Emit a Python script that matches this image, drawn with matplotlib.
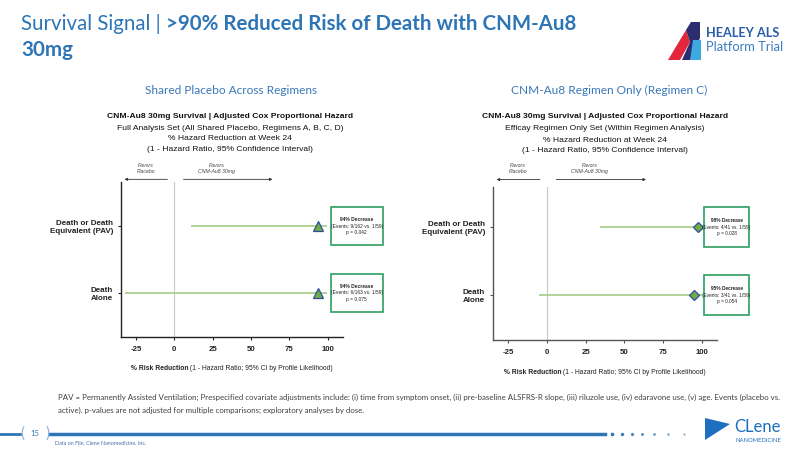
import matplotlib
matplotlib.use("Agg")
import matplotlib.pyplot as plt
from matplotlib.patches import Rectangle, Polygon
from matplotlib.lines import Line2D

W, H = 800, 450

# ---- data ----
rows = ["Death or Death\nEquivalent (PAV)", "Death\nAlone"]
row_pos = [1, 0]
xticks = [-25, 0, 25, 50, 75, 100]

# shared placebo across regimens (left panel)
left_est = [94, 93.5]
left_lo = [11, -32]
left_hi = [99.7, 99.7]
left_pct = ["94% Decrease", "94% Decrease"]
left_events = ["(Events: 9/162 vs. 1/59)", "(Events: 6/163 vs. 1/59)"]
left_p = ["p = 0.042", "p = 0.075"]

# regimen C only (right panel)
right_est = [97.5, 95.2]
right_lo = [34, -5]
right_hi = [99.9, 99.8]
right_pct = ["98% Decrease", "95% Decrease"]
right_events = ["(Events: 4/41 vs. 1/59)", "(Events: 3/41 vs. 1/59)"]
right_p = ["p = 0.028", "p = 0.054"]

left_head = ["CNM-Au8 30mg Survival | Adjusted Cox Proportional Hazard",
             "Full Analysis Set (All Shared Placebo, Regimens A, B, C, D)",
             "% Hazard Reduction at Week 24",
             "(1 - Hazard Ratio, 95% Confidence Interval)"]
right_head = ["CNM-Au8 30mg Survival | Adjusted Cox Proportional Hazard",
              "Efficay Regimen Only Set (Within Regimen Analysis)",
              "% Hazard Reduction at Week 24",
              "(1 - Hazard Ratio, 95% Confidence Interval)"]

BLUE = "#2e75b6"
GREEN_LINE = "#a9d18e"
GREEN_FILL = "#70ad47"
MARK_EDGE = "#2f4f9f"
BOX_EDGE = "#2e9e62"
ARIAL = "Liberation Sans"


def fx(x):
    return x / W


def fy(y):
    return 1 - y / H


fig = plt.figure(figsize=(8, 4.5), dpi=100)
fig.patch.set_facecolor("white")
renderer = fig.canvas.get_renderer()


def rich_text(x, y, parts, ha="left"):
    # parts drawn one after another on one line
    texts = []
    for s, kw in parts:
        t = fig.text(0, fy(y), s, va="center", ha="left", **kw)
        texts.append(t)
    widths = [t.get_window_extent(renderer).width for t in texts]
    total = sum(widths)
    start = x if ha == "left" else x - total / 2
    for t, w in zip(texts, widths):
        t.set_x(fx(start))
        start += w
    return texts


def forest(ax, est, lo, hi, marker, msize, pct, events, pvals, box_x, ylim, spine_c, bfs):
    ax.set_xlim(-35, 110)
    ax.set_ylim(*ylim)
    ax.axvline(0, color="#c8c8c8", lw=0.8, zorder=1)
    ax.hlines(row_pos, lo, hi, color=GREEN_LINE, lw=1.3, zorder=2)
    ax.plot(est, row_pos, ls="none", marker=marker, ms=msize, mfc=GREEN_FILL,
            mec=MARK_EDGE, mew=0.9, zorder=3)
    for sp in ["top", "right"]:
        ax.spines[sp].set_visible(False)
    for sp in ["left", "bottom"]:
        ax.spines[sp].set_color(spine_c)
        ax.spines[sp].set_linewidth(1.0)
    ax.set_xticks(xticks)
    ax.set_xticklabels([str(v) for v in xticks], fontsize=5.6, fontweight="bold",
                       family=ARIAL, color="#222222")
    ax.set_yticks(row_pos)
    ax.set_yticklabels(rows, fontsize=5.8, fontweight="bold", family=ARIAL,
                       color="#222222", linespacing=1.25)
    ax.tick_params(axis="both", length=2.5, width=0.8, color=spine_c, pad=3)
    ax.tick_params(axis="x", pad=4)
    bh = 0.58
    for yv, a, b, c in zip(row_pos, pct, events, pvals):
        ax.add_patch(Rectangle((box_x[0], yv - bh / 2), box_x[1] - box_x[0], bh,
                               fill=True, fc="white", ec=BOX_EDGE, lw=1.2,
                               clip_on=False, zorder=4))
        xc = (box_x[0] + box_x[1]) / 2
        ax.text(xc, yv + 0.1, a, ha="center", va="center", fontsize=bfs,
                fontweight="bold", family=ARIAL, color="#222222", zorder=5, clip_on=False)
        ax.text(xc, yv, b, ha="center", va="center", fontsize=bfs,
                family=ARIAL, color="#222222", zorder=5, clip_on=False)
        ax.text(xc, yv - 0.1, c, ha="center", va="center", fontsize=bfs,
                family=ARIAL, color="#222222", zorder=5, clip_on=False)
    # favors arrows above the frame
    ya = 1.70
    arr = dict(arrowstyle="-|>", lw=0.6, color="#333333", mutation_scale=4,
               shrinkA=0, shrinkB=0)
    ax.annotate("", xy=(-32.5, ya), xytext=(-4.5, ya), arrowprops=arr,
                annotation_clip=False)
    ax.annotate("", xy=(64, ya), xytext=(6, ya), arrowprops=arr,
                annotation_clip=False)
    ax.text(-18.5, ya + 0.16, "Favors\nPlacebo", ha="center", va="center",
            fontsize=3.7, style="italic", family=ARIAL, color="#444444",
            linespacing=1.3, clip_on=False)
    ax.text(27.5, ya + 0.16, "Favors\nCNM-Au8 30mg", ha="center", va="center",
            fontsize=3.7, style="italic", family=ARIAL, color="#444444",
            linespacing=1.3, clip_on=False)


axL = fig.add_axes([fx(120.7), fy(337), 222.3 / W, 155 / H])
forest(axL, left_est, left_lo, left_hi, "^", 6.5, left_pct, left_events, left_p,
       (102, 136), (-0.66, 1.66), "#222222", 3.5)

axR = fig.add_axes([fx(492.7), fy(340), 224.6 / W, 153 / H])
forest(axR, right_est, right_lo, right_hi, "D", 5.0, right_pct, right_events, right_p,
       (101.5, 130.5), (-0.66, 1.59), "#555555", 3.4)

# headers above each forest plot
for cx, lines, ys in [(230, left_head, [117, 128, 139, 150]),
                      (605, right_head, [117, 129, 140, 151])]:
    for i, (s, yy) in enumerate(zip(lines, ys)):
        fig.text(fx(cx), fy(yy), s, ha="center", va="center", family=ARIAL,
                 fontsize=6.1, fontweight="bold" if i == 0 else "normal",
                 color="#111111")

# x axis labels
for cx, yy in [(232, 368), (605, 372)]:
    rich_text(cx, yy, [("% Risk Reduction", dict(fontsize=4.85, fontweight="bold",
                                                  family=ARIAL, color="#222222")),
                       (" (1 - Hazard Ratio; 95% CI by Profile Likelihood)",
                        dict(fontsize=4.85, family=ARIAL, color="#222222"))], ha="center")

# panel sub-headings
fig.text(fx(231), fy(90), "Shared Placebo Across Regimens", ha="center", va="center",
         family="Lato", fontsize=8.6, color="#3a78b8")
fig.text(fx(609), fy(90), "CNM-Au8 Regimen Only (Regimen C)", ha="center", va="center",
         family="Lato", fontsize=8.6, color="#3a78b8")

# slide title
rich_text(21, 24, [("Survival Signal | ", dict(family="Lato", fontsize=14.8,
                                               fontweight="normal", color=BLUE)),
                   (">90% Reduced Risk of Death with CNM-Au8",
                    dict(family="Lato", fontsize=14.8, fontweight="bold", color=BLUE))])
fig.text(fx(21), fy(50), "30mg", ha="left", va="center", family="Lato", fontsize=14.8,
         fontweight="bold", color=BLUE)

# HEALEY logo
fig.add_artist(Polygon([(fx(668), fy(60)), (fx(686), fy(30)), (fx(690), fy(42)),
                        (fx(680), fy(60))], closed=True, fc="#e3263b", ec="none"))
fig.add_artist(Polygon([(fx(686), fy(30)), (fx(691), fy(22)), (fx(700), fy(22)),
                        (fx(700), fy(38)), (fx(690), fy(60)), (fx(682), fy(60)),
                        (fx(690), fy(42))], closed=True, fc="#2b2d6e", ec="none"))
fig.add_artist(Polygon([(fx(693), fy(40)), (fx(701), fy(40)), (fx(701), fy(60)),
                        (fx(690), fy(60))], closed=True, fc="#3ea8e0", ec="none"))
fig.text(fx(706), fy(33), "HEALEY ALS", ha="left", va="center", family="Lato",
         fontsize=9.1, fontweight="bold", color="#2a5da8")
fig.text(fx(706), fy(47), "Platform Trial", ha="left", va="center", family="Lato",
         fontsize=9.3, color="#3a7dc0")

# footnote
fig.text(fx(58), fy(397), "PAV = Permanently Assisted Ventilation; Prespecified covariate "
         "adjustments include: (i) time from symptom onset, (ii) pre-baseline ALSFRS-R slope, "
         "(iii) riluzole use, (iv) edaravone use, (v) age. Events (placebo vs.",
         ha="left", va="center", family="Lato", fontsize=5.7, color="#404040")
fig.text(fx(58), fy(410), "active). p-values are not adjusted for multiple comparisons; "
         "exploratory analyses by dose.",
         ha="left", va="center", family="Lato", fontsize=5.7, color="#404040")

# footer bar
fig.add_artist(Line2D([fx(0), fx(20)], [fy(434), fy(434)], color=BLUE, lw=2))
fig.add_artist(Line2D([fx(50), fx(605)], [fy(434), fy(434)], color=BLUE, lw=2.5))
for i, xd in enumerate([612, 622, 632, 642, 654, 668, 684]):
    fig.add_artist(Line2D([fx(xd)], [fy(434)], marker="o", ms=1.6 - i * 0.12,
                          color=BLUE, alpha=1 - i * 0.11, ls="none"))
fig.text(fx(22), fy(434), "(", ha="center", va="center", fontsize=11, color="#8eaadb",
         family="Lato")
fig.text(fx(48), fy(434), ")", ha="center", va="center", fontsize=11, color="#8eaadb",
         family="Lato")
fig.text(fx(35), fy(433), "15", ha="center", va="center", fontsize=5.5, color=BLUE,
         family="Lato")
fig.text(fx(55), fy(443), "Data on File, Clene Nanomedicine, Inc.", ha="left", va="center",
         fontsize=3.9, color="#4a6fa5", family="Lato")

# Clene logo
fig.add_artist(Polygon([(fx(705), fy(440)), (fx(730), fy(424)), (fx(705), fy(418))],
                       closed=True, fc="#1f6fc0", ec="none"))
fig.text(fx(734), fy(427), "CLene", ha="left", va="center", fontsize=12, color="#1f6fc0",
         family="Lato")
fig.text(fx(735), fy(441), "NANOMEDICINE", ha="left", va="center", fontsize=4.2,
         color="#1f6fc0", family="Lato")

fig.savefig("out.png", dpi=100)
